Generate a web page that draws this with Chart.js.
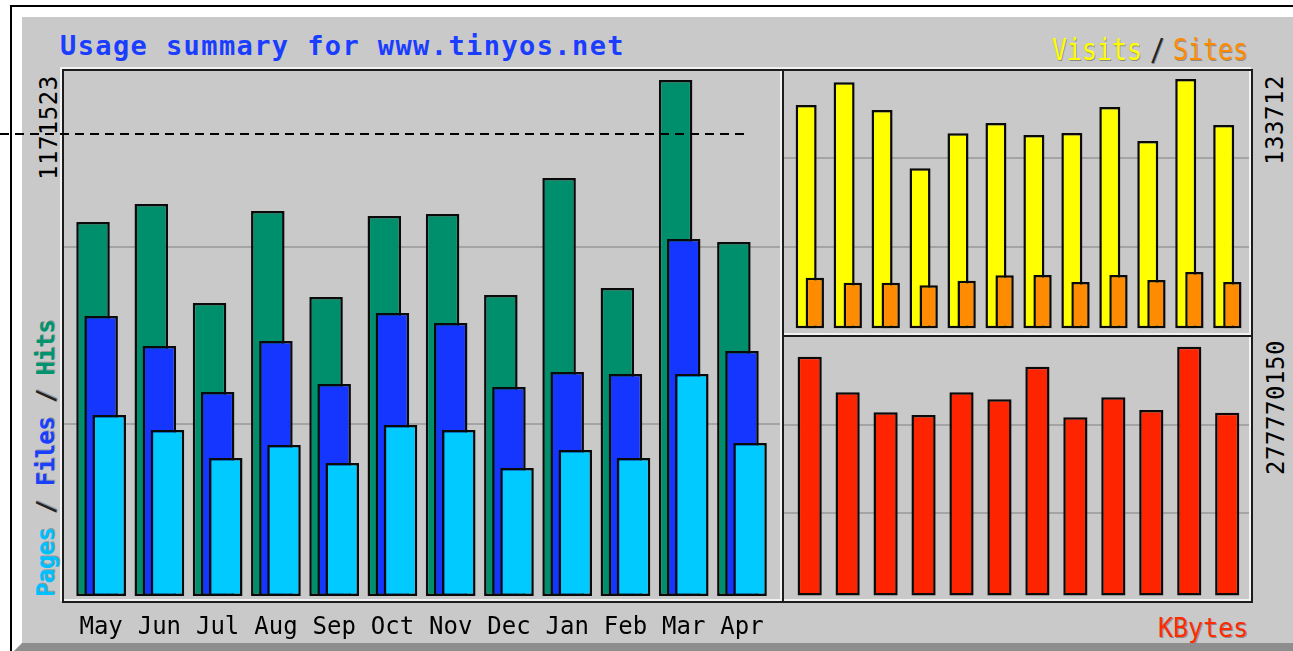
<!DOCTYPE html>
<html><head><meta charset="utf-8">
<script src="https://cdn.jsdelivr.net/npm/chart.js@4.4.1/dist/chart.umd.min.js"></script>
<style>
html,body{margin:0;padding:0;background:#fff;overflow:hidden;width:1293px;height:651px;position:relative;}
.a{position:absolute;}
#img{position:absolute;left:12px;top:7px;width:1300px;height:626px;background:#c9c9c9;
 border-top:10px solid #fff;border-left:10px solid #fff;border-bottom:10px solid #8e8e8e;border-right:10px solid #8e8e8e;}
.dk{position:absolute;background:#1c1c1c;}
.wh{position:absolute;background:#f2f2f2;}
.rot{position:absolute;transform:rotate(-90deg);transform-origin:0 0;white-space:nowrap;font-family:'DejaVu Sans Mono',monospace;}
.mono{font-family:'DejaVu Sans Mono',monospace;white-space:nowrap;}
canvas{position:absolute;}
</style></head>
<body>
<div class="a" style="left:10px;top:5px;width:1300px;height:2px;background:#000"></div>
<div class="a" style="left:10px;top:5px;width:2px;height:660px;background:#000"></div>
<div id="img"></div>

<!-- panel frame: white lines -->
<div class="wh" style="left:60px;top:67px;width:1191px;height:2px"></div>
<div class="wh" style="left:60px;top:67px;width:2px;height:534px"></div>
<div class="wh" style="left:62px;top:599px;width:1189px;height:2px"></div>
<div class="wh" style="left:1249px;top:71px;width:2px;height:530px"></div>
<div class="wh" style="left:780px;top:67px;width:2px;height:534px"></div>
<div class="wh" style="left:780px;top:333px;width:471px;height:2px"></div>
<!-- panel frame: dark lines -->
<div class="dk" style="left:62px;top:69px;width:1191px;height:2px"></div>
<div class="dk" style="left:62px;top:69px;width:2px;height:534px"></div>
<div class="dk" style="left:62px;top:601px;width:1191px;height:2px"></div>
<div class="dk" style="left:1251px;top:69px;width:2px;height:534px"></div>
<div class="dk" style="left:782px;top:69px;width:2px;height:534px"></div>
<div class="dk" style="left:782px;top:335px;width:471px;height:2px"></div>

<canvas id="cLeft" width="716" height="572" style="left:64px;top:71px"></canvas>
<canvas id="cTop" width="465" height="262" style="left:784px;top:71px"></canvas>
<canvas id="cBot" width="465" height="262" style="left:784px;top:337px"></canvas>

<div class="a mono" style="left:60px;top:30px;font-size:27px;line-height:31px;font-weight:bold;letter-spacing:1.4px;color:#1a3dff">Usage summary for www.tinyos.net</div>

<div class="a mono" style="left:1052px;top:31.5px;font-size:30px;line-height:35px;transform:scaleX(0.83);transform-origin:0 0;color:#ffff00;text-shadow:1px 1px 0 #8a8a8a">Visits</div>
<div class="a mono" style="left:1150px;top:31.5px;font-size:30px;line-height:35px;transform:scaleX(0.83);transform-origin:0 0;color:#222;text-shadow:1px 1px 0 #8a8a8a">/</div>
<div class="a mono" style="left:1173px;top:31.5px;font-size:30px;line-height:35px;transform:scaleX(0.83);transform-origin:0 0;color:#ff8c00;text-shadow:1px 1px 0 #8a8a8a">Sites</div>
<div class="a mono" style="left:1158px;top:612px;font-size:26.6px;line-height:31px;transform:scaleX(0.94);transform-origin:0 0;color:#ff2a00;text-shadow:1px 1px 0 #8a8a8a">KBytes</div>

<div class="rot" id="lblHits" style="left:35px;top:180px;font-size:24px;line-height:28px;letter-spacing:0.5px;color:#000"></div>
<div class="rot" id="lblVisits" style="left:1261px;top:165px;font-size:24px;line-height:28px;letter-spacing:0.55px;color:#000"></div>
<div class="rot" id="lblKB" style="left:1262px;top:475px;font-size:24px;line-height:28px;letter-spacing:0.55px;color:#000"></div>
<div class="rot" style="left:32.4px;top:597px;font-size:24px;line-height:28px;letter-spacing:-0.6px;font-weight:bold;text-shadow:1px 1px 0 #9a9a9a"><span style="color:#00c0ff">Pages</span><span style="color:#222"> / </span><span style="color:#1a40ff">Files</span><span style="color:#222"> / </span><span style="color:#00946e">Hits</span></div>

<div class="a" style="left:0;top:133px;width:746px;height:2px;z-index:10;background:repeating-linear-gradient(90deg,#000 0 9px,transparent 9px 15px)"></div>

<script>
const months = ['May','Jun','Jul','Aug','Sep','Oct','Nov','Dec','Jan','Feb','Mar','Apr'];
const hits   = [849120, 889987, 665224, 874094, 678846, 862742, 867283, 683387, 949022, 699280, 1171523, 803713];
const files  = [635713, 567598, 463160, 578950, 481323, 642524, 619820, 474512, 508567, 504026, 810524, 556246];
const pages  = [410940, 376885, 313314, 342829, 301962, 388237, 376885, 290610, 331477, 313314, 504026, 347370];
const visits = [119765, 131942, 117085, 85816, 104589, 110113, 103677, 104750, 118694, 100459, 133712, 109041];
const sites  = [27139, 24457, 24457, 23063, 25530, 28426, 28587, 24833, 28587, 25906, 30196, 24833];
const kbytes = [266604113, 226860420, 204530875, 201521630, 226860420, 219040512, 255440230, 198950710, 221280334, 207100456, 277770150, 204090170];

const maxHits = Math.max(...hits), maxVisits = Math.max(...visits), maxKB = Math.max(...kbytes);
document.getElementById('lblHits').textContent = String(maxHits);
document.getElementById('lblVisits').textContent = String(maxVisits);
document.getElementById('lblKB').textContent = String(maxKB);

// value range so that 0 sits at zeroPx and the maximum at topPx inside an area of height areaH
function range(maxVal, zeroPx, topPx, areaH) {
  const k = (zeroPx - topPx) / maxVal;
  return { min: -(areaH - zeroPx) / k, max: zeroPx / k };
}

const panel = {
  id: 'panel',
  beforeDatasetsDraw(chart, args, opts) {
    const ctx = chart.ctx;
    ctx.save();
    ctx.strokeStyle = '#979797';
    ctx.lineWidth = 1.5;
    for (const y of opts.lines) {
      ctx.beginPath(); ctx.moveTo(0, y); ctx.lineTo(chart.width, y); ctx.stroke();
    }
    ctx.restore();
    // draw datasets in index order: first dataset at the back
    const metas = chart.getSortedVisibleDatasetMetas();
    for (const m of metas) m.controller.draw();
    return false;
  }
};

Chart.defaults.font.family = "'DejaVu Sans Mono', monospace";
const base = {
  responsive: false, animation: false, devicePixelRatio: 1, events: []
};
const bar = { borderColor: '#0a0a0a', borderWidth: 2.5, borderSkipped: false, inflateAmount: 0 };
const hiddenX = { display: false };

new Chart(document.getElementById('cLeft'), {
  type: 'bar',
  data: { labels: months, datasets: [
    { label: 'Hits',  data: hits,  backgroundColor: '#008f6c', categoryPercentage: 0.417, barPercentage: 4.14, ...bar },
    { label: 'Files', data: files, backgroundColor: '#1436ff', categoryPercentage: 0.417, barPercentage: 4.14, ...bar },
    { label: 'Pages', data: pages, backgroundColor: '#00caff', categoryPercentage: 0.417, barPercentage: 4.14, ...bar }
  ]},
  options: { ...base,
    layout: { padding: { left: 8, right: 8.9, top: 0, bottom: 0 } },
    scales: {
      x: { grid: { display: false, drawTicks: false }, border: { display: false },
           ticks: { color: '#000', font: { size: 24 }, padding: 14, maxRotation: 0, autoSkip: false },
           afterFit(s) { s.height = 44; } },
      y: { display: false, ...range(maxHits, 525, 9, 528) }
    },
    plugins: { legend: { display: false }, tooltip: { enabled: false }, panel: { lines: [176, 353] } }
  },
  plugins: [panel]
});

new Chart(document.getElementById('cTop'), {
  type: 'bar',
  data: { labels: months, datasets: [
    { label: 'Visits', data: visits, backgroundColor: '#ffff00', categoryPercentage: 0.4557, barPercentage: 2.43, ...bar },
    { label: 'Sites',  data: sites,  backgroundColor: '#ff8c00', categoryPercentage: 0.4557, barPercentage: 2.12, ...bar }
  ]},
  options: { ...base,
    layout: { padding: { left: 7.5, right: 2, top: 0, bottom: 0 } },
    scales: { x: hiddenX, y: { display: false, ...range(maxVisits, 257.3, 8, 262) } },
    plugins: { legend: { display: false }, tooltip: { enabled: false }, panel: { lines: [87, 176] } }
  },
  plugins: [panel]
});

new Chart(document.getElementById('cBot'), {
  type: 'bar',
  data: { labels: months, datasets: [
    { label: 'KBytes', data: kbytes, backgroundColor: '#ff2400', categoryPercentage: 1, barPercentage: 0.6375, ...bar }
  ]},
  options: { ...base,
    layout: { padding: { left: 6.7, right: 2.8, top: 0, bottom: 0 } },
    scales: { x: hiddenX, y: { display: false, ...range(maxKB, 258.5, 9.7, 262) } },
    plugins: { legend: { display: false }, tooltip: { enabled: false }, panel: { lines: [88, 176] } }
  },
  plugins: [panel]
});
</script>
</body></html>
